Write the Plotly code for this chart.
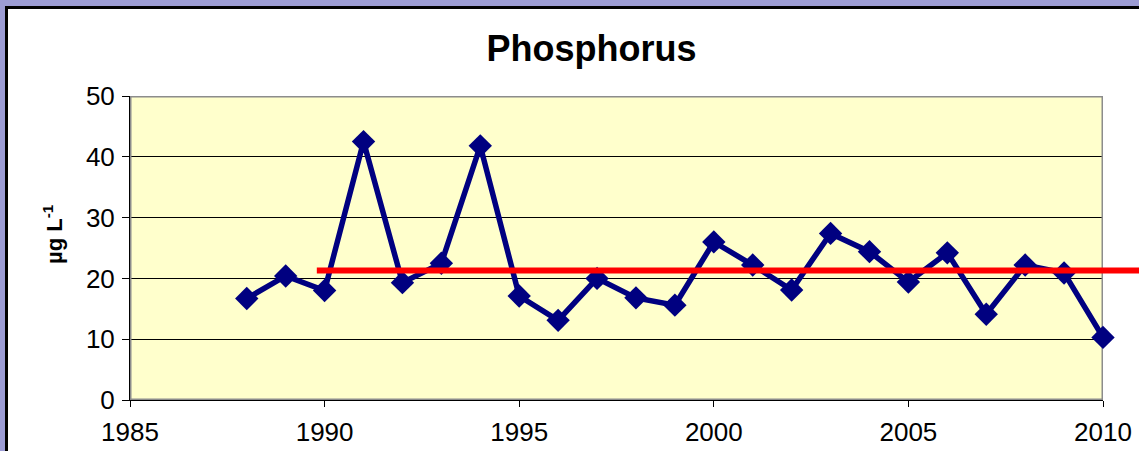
import plotly.graph_objects as go

# ---- data ----
years = list(range(1988, 2011))
phosphorus = [16.7, 20.4, 18.0, 42.5, 19.3, 22.5, 41.8, 17.1, 13.1, 20.0, 16.8,
              15.6, 26.0, 22.2, 18.1, 27.4, 24.4, 19.4, 24.2, 14.1, 22.2, 20.9, 10.3]
mean_value = 21.3
mean_start_year = 1989.8
x_ticks = [1985, 1990, 1995, 2000, 2005, 2010]
y_ticks = [0, 10, 20, 30, 40, 50]

# ---- layout geometry ----
W, H = 1139, 451
L, R, T, B = 130, 36, 96, 51
PW, PH = W - L - R, H - T - B


def px_x(px):
    return (px - L) / PW


def px_y(py):
    return (H - B - py) / PH


FONT = "Arial, Liberation Sans, sans-serif"

fig = go.Figure()
fig.add_trace(go.Scatter(
    x=years, y=phosphorus, mode="lines+markers",
    line=dict(color="#000080", width=5.5),
    marker=dict(symbol="diamond", size=18, color="#000080"),
    cliponaxis=False, showlegend=False,
))

shapes = [
    # white chart area with black border
    dict(type="rect", xref="paper", yref="paper", layer="below",
         x0=px_x(6.5), x1=px_x(W + 20), y0=px_y(H + 20), y1=px_y(7.5),
         fillcolor="white", line=dict(color="black", width=3)),
    # plot area background
    dict(type="rect", xref="paper", yref="paper", layer="below",
         x0=0, x1=1, y0=0, y1=1, fillcolor="#FFFFCC", line=dict(width=0)),
    # plot area border (gray)
    dict(type="rect", xref="x", yref="y", layer="between",
         x0=x_ticks[0], x1=x_ticks[-1], y0=y_ticks[0], y1=y_ticks[-1],
         fillcolor="rgba(0,0,0,0)", line=dict(color="#8C8C8C", width=3)),
    # mean line
    dict(type="line", xref="x", yref="y", layer="above",
         x0=mean_start_year, x1=x_ticks[-1], y0=mean_value, y1=mean_value,
         line=dict(color="#FF0000", width=6)),
    dict(type="line", xref="paper", yref="y", layer="above",
         x0=1, x1=px_x(W + 10), y0=mean_value, y1=mean_value,
         line=dict(color="#FF0000", width=6)),
]

fig.update_layout(
    width=W, height=H,
    margin=dict(l=L, r=R, t=T, b=B, autoexpand=False),
    paper_bgcolor="#9C9CD4",
    plot_bgcolor="rgba(0,0,0,0)",
    font=dict(family=FONT, color="black"),
    title=dict(text="<b>Phosphorus</b>", font=dict(size=36, family=FONT, color="black"),
               xref="container", yref="container", x=591.5 / W, xanchor="center",
               y=1 - 48 / H, yanchor="middle"),
    shapes=shapes,
    annotations=[dict(text="<b>µg L<sup>-1</sup></b>", font=dict(size=22, family=FONT),
                      xref="paper", yref="paper", x=px_x(53), y=px_y(234),
                      xanchor="center", yanchor="middle", textangle=-90,
                      showarrow=False)],
    xaxis=dict(range=[x_ticks[0], x_ticks[-1]], tickvals=x_ticks,
               ticks="outside", ticklen=6, tickcolor="black", tickwidth=1,
               showline=True, linecolor="black", linewidth=1, automargin=False,
               ticklabelstandoff=3,
               showgrid=False, zeroline=False, tickfont=dict(size=26)),
    yaxis=dict(range=[y_ticks[0], y_ticks[-1]], tickvals=y_ticks,
               ticks="outside", ticklen=7, tickcolor="black", tickwidth=1,
               showline=True, linecolor="black", linewidth=1, automargin=False,
               ticklabelstandoff=2,
               showgrid=True, gridcolor="black", gridwidth=1,
               zeroline=False, tickfont=dict(size=26)),
)

fig.write_html(
    "out.html",
    config={"displayModeBar": False},
    post_script="document.body.style.margin='0';document.body.style.overflow='hidden';",
)
